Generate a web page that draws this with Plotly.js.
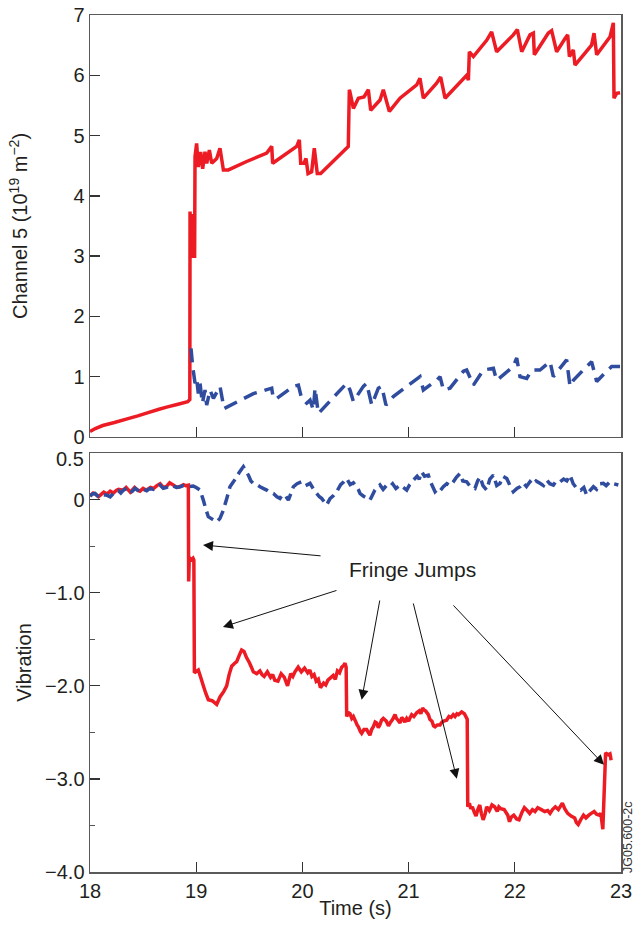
<!DOCTYPE html>
<html><head><meta charset="utf-8">
<script src="https://cdn.plot.ly/plotly-3.0.1.min.js"></script>
<style>html,body{margin:0;padding:0;background:#fff}#chart{width:640px;height:928px}</style>
</head><body><div id="chart"></div>
<script>
// ---- Channel 5 line density (top panel) ----
const timeTopRed = [18.00,18.05,18.12,18.23,18.35,18.45,18.54,18.65,18.73,18.82,18.92,18.94,18.942,18.951,18.958,18.965,18.985,18.989,19.004,19.02,19.042,19.061,19.083,19.099,19.124,19.146,19.193,19.224,19.256,19.303,19.475,19.664,19.711,19.72,19.946,19.971,19.984,20.015,20.034,20.053,20.087,20.112,20.14,20.172,20.432,20.442,20.448,20.48,20.527,20.58,20.621,20.643,20.731,20.762,20.819,20.919,21.076,21.107,21.139,21.264,21.302,21.343,21.547,21.563,21.572,21.61,21.735,21.782,21.829,21.986,22.024,22.065,22.143,22.175,22.184,22.316,22.347,22.394,22.473,22.498,22.514,22.551,22.567,22.723,22.746,22.771,22.897,22.928,22.934,22.959,22.991];
const ch5Red = [0.09,0.14,0.19,0.24,0.30,0.35,0.40,0.46,0.50,0.54,0.585,0.62,3.74,2.99,3.70,3.0,3.0,4.65,4.87,4.48,4.73,4.45,4.73,4.54,4.76,4.54,4.62,4.79,4.43,4.43,4.57,4.71,4.82,4.54,4.82,4.93,4.54,4.54,4.62,4.37,4.40,4.79,4.37,4.37,4.82,5.76,5.72,5.45,5.62,5.64,5.76,5.42,5.59,5.76,5.40,5.62,5.84,5.95,5.62,5.87,5.97,5.62,6.00,5.92,6.39,6.31,6.58,6.72,6.39,6.67,6.76,6.39,6.67,6.70,6.34,6.70,6.74,6.39,6.61,6.67,6.31,6.42,6.17,6.50,6.70,6.34,6.64,6.87,5.62,5.70,5.71];
const timeTopBlue = [18.951,18.967,18.989,19.004,19.02,19.036,19.058,19.083,19.099,19.13,19.162,19.224,19.262,19.538,19.601,19.711,19.726,19.758,19.915,19.962,19.993,20.041,20.072,20.103,20.119,20.15,20.417,20.448,20.48,20.574,20.605,20.653,20.715,20.747,20.787,20.856,20.998,21.107,21.139,21.264,21.296,21.328,21.39,21.516,21.547,21.61,21.704,21.798,21.829,21.892,21.986,22.018,22.049,22.112,22.159,22.237,22.332,22.363,22.488,22.52,22.551,22.677,22.723,22.771,22.865,22.912,22.991];
const ch5Blue = [1.47,1.17,0.89,0.97,0.72,0.89,0.56,0.78,0.53,0.78,0.64,0.84,0.47,0.72,0.75,0.81,0.64,0.64,0.84,0.86,0.64,0.56,0.61,0.45,0.81,0.39,0.89,0.78,0.59,0.84,0.89,0.53,0.81,0.84,0.53,0.67,0.86,1.00,0.78,0.94,1.00,0.78,0.81,1.09,1.11,0.86,1.11,1.14,0.94,1.03,1.17,1.31,1.00,0.97,1.11,1.11,1.25,1.00,1.28,0.84,0.94,1.17,1.25,0.92,1.09,1.17,1.17];

// ---- Vibration (bottom panel) ----
const timeBotRed = [18.0,18.03,18.05,18.08,18.1,18.13,18.16,18.19,18.22,18.25,18.27,18.31,18.34,18.38,18.42,18.45,18.47,18.5,18.53,18.57,18.6,18.63,18.66,18.69,18.72,18.75,18.78,18.82,18.85,18.88,18.9,18.926,18.929,18.935,18.95,18.97,18.978,18.983,18.995,19.02,19.04,19.067,19.09,19.114,19.15,19.193,19.224,19.26,19.287,19.31,19.334,19.36,19.381,19.41,19.428,19.45,19.475,19.5,19.52,19.538,19.57,19.6,19.62,19.64,19.67,19.7,19.72,19.74,19.77,19.8,19.83,19.86,19.89,19.91,19.93,19.96,19.99,20.02,20.05,20.07,20.09,20.11,20.13,20.15,20.17,20.2,20.22,20.24,20.27,20.29,20.31,20.33,20.35,20.37,20.39,20.401,20.412,20.417,20.435,20.448,20.465,20.48,20.5,20.515,20.527,20.545,20.558,20.58,20.605,20.62,20.636,20.652,20.668,20.685,20.699,20.715,20.73,20.745,20.762,20.79,20.81,20.825,20.85,20.872,20.885,20.9,20.919,20.935,20.95,20.965,20.982,21.0,21.015,21.029,21.05,21.076,21.1,21.115,21.132,21.145,21.16,21.186,21.2,21.22,21.235,21.249,21.27,21.296,21.315,21.33,21.358,21.38,21.4,21.42,21.437,21.455,21.47,21.5,21.525,21.552,21.557,21.572,21.586,21.6,21.619,21.635,21.652,21.67,21.685,21.702,21.72,21.735,21.76,21.785,21.81,21.835,21.85,21.868,21.9,21.934,21.95,21.967,21.99,22.017,22.04,22.067,22.09,22.117,22.14,22.166,22.19,22.216,22.25,22.282,22.31,22.332,22.355,22.382,22.41,22.448,22.47,22.498,22.53,22.564,22.58,22.597,22.62,22.647,22.67,22.697,22.72,22.747,22.77,22.796,22.81,22.829,22.855,22.879,22.896,22.903,22.906,22.92,22.93,22.945,22.975];
const vibRed = [0.04,0.07,0.06,0.03,0.05,0.08,0.06,0.09,0.07,0.10,0.11,0.10,0.13,0.08,0.13,0.10,0.09,0.12,0.10,0.13,0.12,0.15,0.17,0.13,0.14,0.18,0.16,0.13,0.14,0.16,0.15,0.156,-0.88,-0.62,-0.65,-0.63,-0.65,-1.86,-1.85,-1.83,-1.90,-2.00,-2.08,-2.15,-2.16,-2.20,-2.12,-2.06,-2.00,-1.88,-1.79,-1.76,-1.74,-1.66,-1.615,-1.63,-1.70,-1.75,-1.80,-1.85,-1.87,-1.84,-1.88,-1.90,-1.85,-1.91,-1.88,-1.94,-1.95,-1.87,-1.91,-2.00,-1.87,-1.90,-1.85,-1.80,-1.85,-1.81,-1.86,-1.83,-1.90,-1.88,-1.95,-1.93,-2.02,-1.97,-1.99,-1.94,-1.91,-1.89,-1.93,-1.84,-1.86,-1.80,-1.78,-1.757,-1.80,-2.33,-2.29,-2.30,-2.35,-2.33,-2.38,-2.42,-2.44,-2.49,-2.51,-2.47,-2.47,-2.50,-2.53,-2.47,-2.44,-2.39,-2.40,-2.45,-2.42,-2.37,-2.35,-2.38,-2.43,-2.40,-2.36,-2.31,-2.35,-2.37,-2.40,-2.34,-2.36,-2.39,-2.35,-2.38,-2.34,-2.31,-2.33,-2.29,-2.27,-2.30,-2.24,-2.26,-2.27,-2.31,-2.36,-2.38,-2.43,-2.44,-2.42,-2.42,-2.39,-2.38,-2.37,-2.33,-2.34,-2.31,-2.33,-2.30,-2.31,-2.28,-2.30,-2.36,-3.30,-3.26,-3.32,-3.30,-3.36,-3.40,-3.33,-3.28,-3.37,-3.44,-3.38,-3.30,-3.34,-3.28,-3.30,-3.35,-3.30,-3.32,-3.33,-3.39,-3.46,-3.41,-3.39,-3.43,-3.44,-3.36,-3.31,-3.34,-3.37,-3.33,-3.35,-3.31,-3.33,-3.35,-3.34,-3.37,-3.33,-3.30,-3.33,-3.26,-3.32,-3.37,-3.40,-3.42,-3.47,-3.49,-3.44,-3.39,-3.42,-3.39,-3.37,-3.35,-3.38,-3.39,-3.37,-3.54,-2.72,-2.74,-2.73,-2.77,-2.80];
const timeBotBlue = [18.0,18.025,18.047,18.07,18.094,18.12,18.157,18.19,18.22,18.245,18.267,18.29,18.314,18.345,18.377,18.4,18.424,18.45,18.471,18.5,18.534,18.565,18.596,18.63,18.659,18.69,18.722,18.75,18.785,18.815,18.847,18.88,18.91,18.94,18.973,19.0,19.036,19.067,19.09,19.114,19.15,19.193,19.224,19.256,19.29,19.318,19.35,19.381,19.41,19.444,19.465,19.491,19.515,19.538,19.57,19.601,19.63,19.664,19.69,19.727,19.76,19.789,19.81,19.836,19.868,19.89,19.915,19.95,19.993,20.03,20.072,20.1,20.134,20.16,20.181,20.21,20.228,20.26,20.29,20.323,20.36,20.39,20.417,20.45,20.48,20.511,20.53,20.542,20.57,20.6,20.636,20.66,20.683,20.71,20.731,20.76,20.79,20.825,20.85,20.88,20.919,20.95,20.982,21.01,21.045,21.08,21.1,21.123,21.15,21.186,21.21,21.249,21.28,21.3,21.327,21.36,21.39,21.422,21.45,21.484,21.51,21.547,21.58,21.625,21.65,21.673,21.7,21.735,21.765,21.798,21.83,21.861,21.89,21.924,21.955,21.986,22.02,22.049,22.08,22.11,22.143,22.17,22.2,22.237,22.27,22.3,22.33,22.363,22.39,22.426,22.46,22.49,22.52,22.55,22.583,22.62,22.65,22.677,22.71,22.74,22.77,22.8,22.834,22.86,22.896,22.93,22.975];
const vibBlue = [0.038,0.06,0.066,0.04,0.023,0.05,0.048,0.03,0.066,0.08,0.095,0.07,0.102,0.12,0.074,0.09,0.12,0.10,0.084,0.11,0.095,0.12,0.109,0.13,0.156,0.12,0.131,0.15,0.145,0.13,0.138,0.15,0.138,0.14,0.145,0.13,0.102,-0.006,-0.10,-0.184,-0.21,-0.238,-0.202,-0.113,0.02,0.138,0.19,0.245,0.30,0.352,0.31,0.263,0.20,0.174,0.16,0.138,0.12,0.102,0.08,0.066,0.03,0.013,0.05,0.048,-0.006,0.06,0.138,0.17,0.191,0.15,0.174,0.12,0.066,0.03,0.013,-0.03,-0.059,0.01,0.04,0.084,0.16,0.19,0.227,0.16,0.18,0.138,0.10,0.066,0.04,0.02,-0.006,0.05,0.102,0.13,0.156,0.11,0.15,0.138,0.17,0.12,0.156,0.13,0.102,0.16,0.209,0.25,0.22,0.298,0.25,0.263,0.18,0.084,0.12,0.10,0.138,0.17,0.15,0.191,0.24,0.28,0.20,0.191,0.14,0.12,0.20,0.245,0.15,0.102,0.22,0.263,0.15,0.174,0.25,0.227,0.15,0.084,0.12,0.138,0.18,0.14,0.191,0.16,0.20,0.174,0.15,0.209,0.17,0.156,0.20,0.191,0.22,0.20,0.263,0.17,0.12,0.10,0.13,0.048,0.10,0.138,0.11,0.17,0.174,0.15,0.191,0.17,0.156];

// ---- tick labels ----
const xTickVals = [18,19,20,21,22,23];
const xTickText = ['18','19','20','21','22','23'];
const topYTickVals = [0,1,2,3,4,5,6,7];
const topYTickText = ['0','1','2','3','4','5','6','7'];
const botYTickVals = [0,-1,-2,-3,-4];
const botYTickText = ['0','\u22121.0','\u22122.0','\u22123.0','\u22124.0'];
const botYTopLabel = '0.5';
const botYMinorVals = [-0.5,-1.5,-2.5,-3.5];
const annotationLabel = 'Fringe Jumps';
const figureCode = 'JG05.600-2c';

const RED = '#ED1C24', BLUE = '#2F4C9F', TXT = '#231F20', AX = '#5a5a5a';
const FONT = 'Liberation Sans, Arial, Helvetica, sans-serif';

const traces = [
  {x: timeTopRed, y: ch5Red, xaxis:'x', yaxis:'y', mode:'lines', line:{color:RED, width:3.5, simplify:false}},
  {x: timeTopBlue, y: ch5Blue, xaxis:'x', yaxis:'y', mode:'lines', line:{color:BLUE, width:3.5, dash:'14px,8px', simplify:false}},
  {x: timeBotRed, y: vibRed, xaxis:'x2', yaxis:'y2', mode:'lines', line:{color:RED, width:3.5, simplify:false}},
  {x: timeBotBlue, y: vibBlue, xaxis:'x2', yaxis:'y2', mode:'lines', line:{color:BLUE, width:3.5, dash:'11px,6px', simplify:false}}
];

const axisBase = {showgrid:false, zeroline:false, showline:true, mirror:true, linecolor:AX, linewidth:1.5,
  ticks:'inside', ticklen:10, tickwidth:1.3, tickcolor:'#333', tickfont:{family:FONT, size:20, color:TXT}};

function arrow(x, y, ax, ay) {
  return {x:x, y:y, ax:ax, ay:ay, xref:'x2', yref:'y2', axref:'x2', ayref:'y2', text:'', showarrow:true,
    arrowhead:2, arrowsize:2, arrowwidth:1, arrowcolor:'#111', standoff:0, startstandoff:0};
}

const layout = {
  width:640, height:928, showlegend:false,
  paper_bgcolor:'#fff', plot_bgcolor:'#fff',
  margin:{l:90, r:19, t:15, b:56},
  font:{family:FONT, color:TXT},
  xaxis: Object.assign({}, axisBase, {domain:[0,1], anchor:'y', range:[18,23], tickmode:'array', tickvals:[19,20,21,22], showticklabels:false}),
  yaxis: Object.assign({}, axisBase, {domain:[0.5076,1], anchor:'x', range:[0,7], tickmode:'array', tickvals:topYTickVals, ticktext:topYTickText,
    title:{text:'Channel 5 (10<sup>19</sup> m<sup>\u22122</sup>)', font:{family:FONT, size:20, color:TXT}, standoff:40}}),
  xaxis2: Object.assign({}, axisBase, {domain:[0,1], anchor:'y2', range:[18,23], tickmode:'array', tickvals:xTickVals, ticktext:xTickText,
    title:{text:'Time (s)', font:{family:FONT, size:20, color:TXT}, standoff:0}}),
  yaxis2: Object.assign({}, axisBase, {domain:[0,0.4889], anchor:'x2', range:[-4,0.5], tickmode:'array', tickvals:botYTickVals, ticktext:botYTickText,
    minor:{tickmode:'array', tickvals:botYMinorVals, ticks:'inside', ticklen:5, tickwidth:1.2, tickcolor:'#555'},
    title:{text:'Vibration', font:{family:FONT, size:20, color:TXT}, standoff:8}}),
  annotations: [
    {x:0, y:0.5, xref:'x2 domain', yref:'y2', text:botYTopLabel, showarrow:false, font:{family:FONT, size:20, color:TXT},
      xanchor:'right', yanchor:'middle', xshift:-4, yshift:-6},
    {x:21.037, y:-0.749, xref:'x2', yref:'y2', text:annotationLabel, showarrow:false, font:{family:FONT, size:21, color:TXT}, xanchor:'center', yanchor:'middle'},
    arrow(19.064, -0.488, 20.185, -0.606),
    arrow(19.252, -1.368, 20.335, -0.971),
    arrow(20.558, -2.151, 20.731, -1.068),
    arrow(21.454, -2.999, 21.041, -1.10),
    arrow(22.84, -2.849, 21.409, -1.121),
    {x:1.0135, y:0.041, xref:'paper', yref:'paper', text:figureCode, textangle:-90, showarrow:false, font:{family:FONT, size:12.5, color:'#333'}, xanchor:'center', yanchor:'middle'}
  ]
};

Plotly.newPlot('chart', traces, layout, {staticPlot:true, displayModeBar:false});
</script></body></html>
